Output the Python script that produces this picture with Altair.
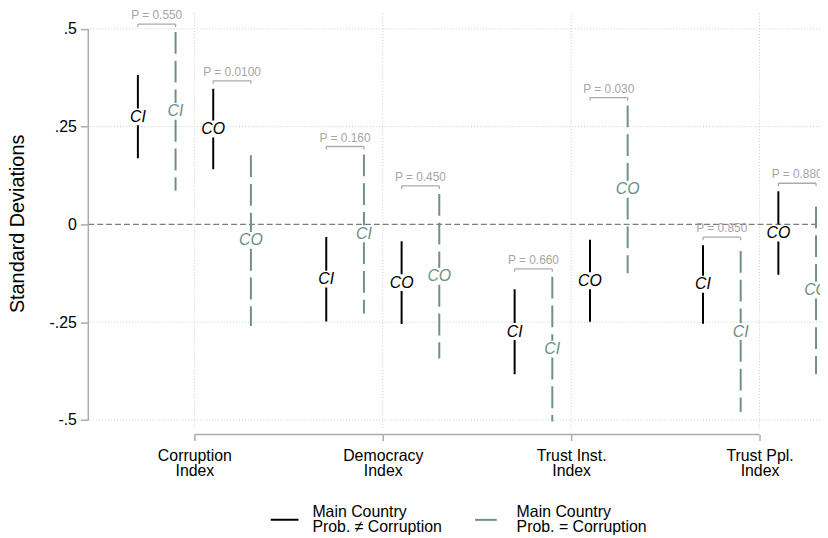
import json
import altair as alt
import pandas as pd

# ---------------- data ----------------
categories = ["Corruption Index", "Democracy Index", "Trust Inst. Index", "Trust Ppl. Index"]
category_lines = [["Corruption", "Index"], ["Democracy", "Index"], ["Trust Inst.", "Index"], ["Trust Ppl.", "Index"]]
series_names = ["Main Country Prob. ≠ Corruption", "Main Country Prob. = Corruption"]
series_lines = [["Main Country", "Prob. ≠ Corruption"], ["Main Country", "Prob. = Corruption"]]

# point estimates and interval bounds (one value per category)
est_ci_neq = [0.275, -0.140, -0.274, -0.153]
lo_ci_neq = [0.169, -0.248, -0.383, -0.254]
hi_ci_neq = [0.382, -0.032, -0.166, -0.053]

est_ci_eq = [0.289, -0.024, -0.319, -0.274]
lo_ci_eq = [0.086, -0.228, -0.504, -0.480]
hi_ci_eq = [0.492, 0.179, -0.134, -0.068]

est_co_neq = [0.244, -0.149, -0.144, -0.022]
lo_co_neq = [0.141, -0.255, -0.249, -0.129]
hi_co_neq = [0.347, -0.043, -0.039, 0.085]

est_co_eq = [-0.041, -0.133, 0.090, -0.168]
lo_co_eq = [-0.260, -0.343, -0.125, -0.383]
hi_co_eq = [0.177, 0.078, 0.304, 0.046]

p_ci = ["0.550", "0.160", "0.660", "0.850"]
p_co = ["0.0100", "0.450", "0.030", "0.880"]

ytick_vals = [-0.5, -0.25, 0, 0.25, 0.5]
ytick_labels = ["-.5", "-.25", "0", ".25", ".5"]

# ---------------- styling ----------------
FONT = "Liberation Sans"
GREEN = "#6e9183"
AXIS_GRAY = "#ababab"
GRID_GRAY = "#cdcdcd"
W, H = 738, 426
GAP = 8.5 / 394.4          # half-gap around CI/CO label (data units)
BR_OFF = 8.0 / 394.4       # bracket above the taller bar
BR_TICK = 3.0 / 394.4      # bracket end ticks

slots = [
    ("CI", 0, est_ci_neq, lo_ci_neq, hi_ci_neq),
    ("CI", 1, est_ci_eq, lo_ci_eq, hi_ci_eq),
    ("CO", 0, est_co_neq, lo_co_neq, hi_co_neq),
    ("CO", 1, est_co_eq, lo_co_eq, hi_co_eq),
]
rows = []
for i, cat in enumerate(categories):
    for k, (meas, s, est, lo, hi) in enumerate(slots):
        rows.append(dict(category=cat, pos=i + 1 + (k - 1.5) * 0.2, measure=meas,
                         series=series_names[s], sidx=s, est=est[i], lo=lo[i], hi=hi[i]))
bars = pd.DataFrame(rows)

brows = []
for i, cat in enumerate(categories):
    for a, b, plist in [(0, 1, p_ci), (2, 3, p_co)]:
        ra, rb = rows[i * 4 + a], rows[i * 4 + b]
        brows.append(dict(x1=ra["pos"], x2=rb["pos"], xm=(ra["pos"] + rb["pos"]) / 2,
                          top=max(ra["hi"], rb["hi"]), label="P = " + plist[i]))
brackets = pd.DataFrame(brows)

cat_pos = pd.DataFrame({"v": list(range(1, len(categories) + 1))})
hgrid = pd.DataFrame({"v": [v for v in ytick_vals if v != 0]})
yline = pd.DataFrame({"a": [ytick_vals[0]], "b": [ytick_vals[-1]]})
xline = pd.DataFrame({"a": [1], "b": [len(categories)]})
zero = pd.DataFrame({"v": [0]})

# ---------------- scales / axes ----------------
xs = alt.Scale(domain=[1 - 107 / 190, 1 + 631 / 190], nice=False, zero=False)
ys = alt.Scale(domain=[-212 / 394.4, 214 / 394.4], nice=False, zero=False)

x_label_expr = json.dumps(category_lines, ensure_ascii=False) + "[datum.value - 1]"
y_label_expr = (json.dumps(ytick_labels) + "[indexof(" + json.dumps(ytick_vals) + ", datum.value)]")

x_axis = alt.Axis(values=list(range(1, len(categories) + 1)), labelExpr=x_label_expr, title=None,
                  domain=False, grid=False, tickSize=6, tickColor=AXIS_GRAY, tickWidth=1.5,
                  labelFontSize=16, labelLineHeight=15.5, labelColor="black", labelFont=FONT,
                  labelPadding=15, labelBaseline="middle", labelAngle=0, labelOverlap=False,
                  labelFlush=False)
y_axis = alt.Axis(values=ytick_vals, labelExpr=y_label_expr, title="Standard Deviations",
                  domain=False, grid=False, tickSize=8, tickColor=AXIS_GRAY, tickWidth=1.5,
                  labelFontSize=16, labelPadding=4, labelColor="black", labelFont=FONT,
                  labelFlush=False, labelOverlap=False,
                  titleFont=FONT, titleFontSize=20, titleFontWeight="normal", titleColor="black",
                  titleX=-71, titleY=213, titleAngle=270, titleAlign="center", titleBaseline="middle")


def X(field):
    return alt.X(field, scale=xs, axis=x_axis)


def Y(field):
    return alt.Y(field, scale=ys, axis=y_axis)


legend_label_expr = (json.dumps(series_lines, ensure_ascii=False) + "[indexof(" +
                     json.dumps(series_names, ensure_ascii=False) + ", datum.label)]")
legend = alt.Legend(title=None, orient="none", legendX=183, legendY=497, direction="horizontal",
                    symbolType="stroke", symbolSize=784, symbolStrokeWidth=2,
                    labelExpr=legend_label_expr, labelFont=FONT, labelFontSize=16,
                    labelBaseline="bottom",
                    labelColor="black", labelOffset=13, columnPadding=29,
                    padding=0, labelLimit=300)
color_enc = alt.Color("series:N", scale=alt.Scale(domain=series_names, range=["#000000", GREEN]),
                      legend=legend)
dash_enc = alt.StrokeDash("series:N", scale=alt.Scale(domain=series_names, range=[[1, 0], [22, 7]]),
                          legend=legend)

# ---------------- layers ----------------
hgrid_l = alt.Chart(hgrid).mark_rule(color=GRID_GRAY, strokeDash=[1, 2], strokeWidth=1).encode(
    y=Y("v:Q"), x=alt.value(2), x2=alt.value(W))

vgrid_l = alt.Chart(cat_pos).mark_rule(color=GRID_GRAY, strokeDash=[1, 2], strokeWidth=1).encode(
    x=X("v:Q"), y=alt.value(1), y2=alt.value(421))

zero_l = alt.Chart(zero).mark_rule(color="#7d7d7d", strokeDash=[6, 3], strokeWidth=1.3).encode(
    y=Y("v:Q"), x=alt.value(0), x2=alt.value(W))

yline_l = alt.Chart(yline).mark_rule(color=AXIS_GRAY, strokeWidth=1.5).encode(
    x=alt.value(0), y=Y("a:Q"), y2="b:Q")

xline_l = alt.Chart(xline).mark_rule(color=AXIS_GRAY, strokeWidth=1.5).encode(
    y=alt.value(H), x=X("a:Q"), x2="b:Q")

upper_l = alt.Chart(bars).transform_calculate(seg=f"datum.est + {GAP}").mark_rule(
    strokeWidth=2, clip=True).encode(
    x=X("pos:Q"), y=Y("hi:Q"), y2="seg:Q", color=color_enc, strokeDash=dash_enc)

lower_l = alt.Chart(bars).transform_calculate(seg=f"datum.est - {GAP}").mark_rule(
    strokeWidth=2, clip=True).encode(
    x=X("pos:Q"), y=Y("seg:Q"), y2="lo:Q", color=color_enc, strokeDash=dash_enc)

label_l = alt.Chart(bars).transform_calculate(
    tcol=f"datum.sidx == 0 ? '#000000' : '{GREEN}'").mark_text(
    font=FONT, fontSize=16, fontStyle="italic", baseline="middle", align="center", clip=True).encode(
    x=X("pos:Q"), y=Y("est:Q"), text="measure:N", color=alt.Color("tcol:N", scale=None))

br_base = alt.Chart(brackets).transform_calculate(
    by=f"datum.top + {BR_OFF}", bt=f"datum.top + {BR_OFF - BR_TICK}")
br_h = br_base.mark_rule(color=AXIS_GRAY, strokeWidth=1.3, clip=True).encode(
    x=X("x1:Q"), x2="x2:Q", y=Y("by:Q"))
br_t1 = br_base.mark_rule(color=AXIS_GRAY, strokeWidth=1.3, clip=True).encode(
    x=X("x1:Q"), y=Y("by:Q"), y2="bt:Q")
br_t2 = br_base.mark_rule(color=AXIS_GRAY, strokeWidth=1.3, clip=True).encode(
    x=X("x2:Q"), y=Y("by:Q"), y2="bt:Q")
br_txt = br_base.mark_text(font=FONT, fontSize=12, color="#a5a5a5", baseline="middle",
                           align="center", dy=-9).encode(
    x=X("xm:Q"), y=Y("by:Q"), text="label:N")

chart = alt.layer(
    hgrid_l, vgrid_l, zero_l, yline_l, xline_l, upper_l, lower_l, label_l,
    br_h, br_t1, br_t2, br_txt
).properties(
    width=W, height=H,
    padding={"left": 81, "top": 2, "right": 0, "bottom": 100},
    autosize=alt.AutoSizeParams(type="none"),
).configure(
    font=FONT, background="white",
    view=alt.ViewConfig(stroke=None),
    style={"guide-label": {"lineHeight": 15}},
)

chart.save("out.html", embed_options={"renderer": "svg", "actions": False})
